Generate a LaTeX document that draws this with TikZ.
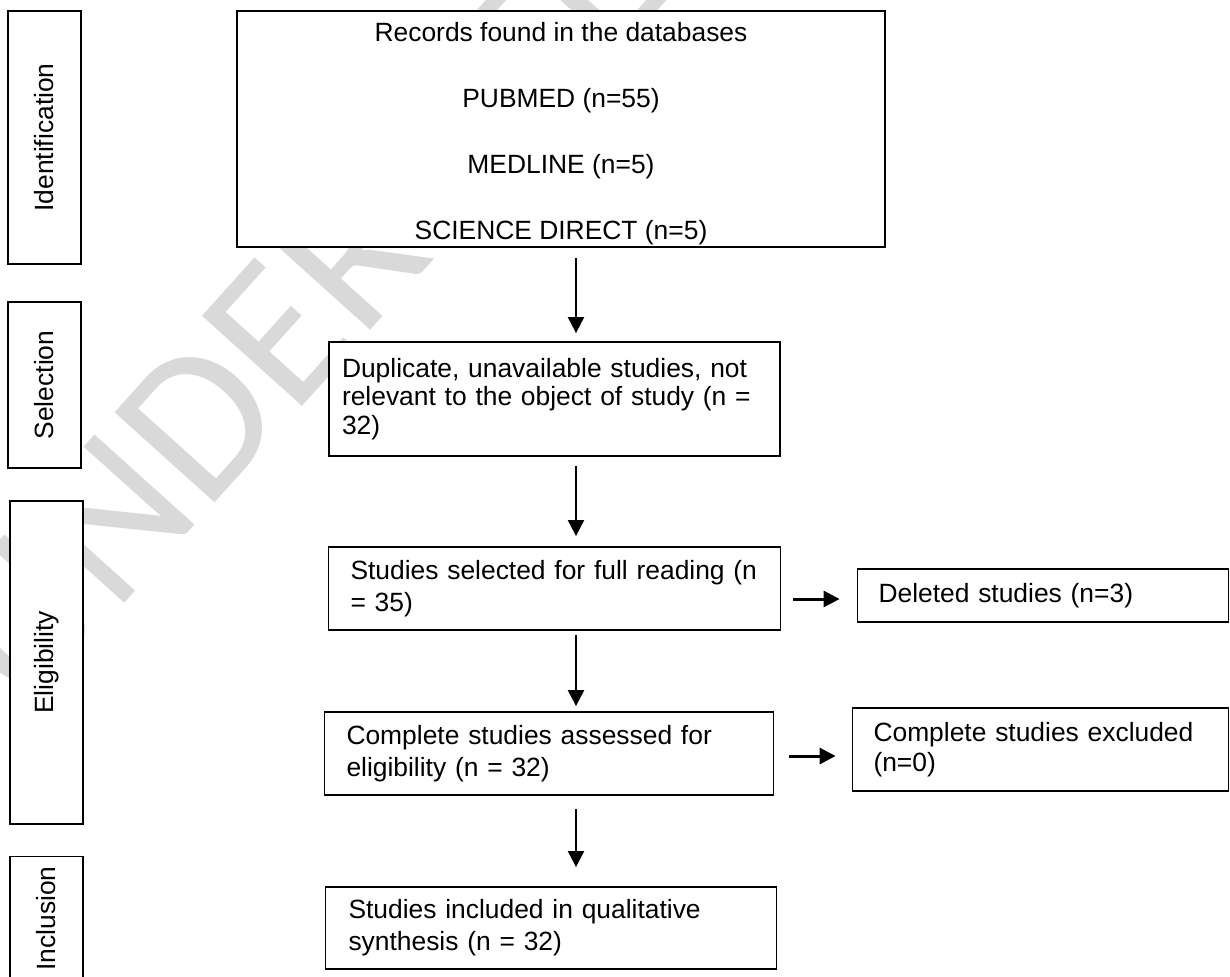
\documentclass[tikz,border=0pt]{standalone}
\usepackage{fontspec}
\setmainfont{Liberation Sans}
\newfontfamily\wmfont{Carlito}
\usetikzlibrary{
    arrows.meta,
    calc,
}
\definecolor{wmgray}{RGB}{217,217,217}

\begin{document}
\begin{tikzpicture}[
        font=\fontsize{13.2pt}{16pt}\selectfont,
        >={Triangle[length=8pt,width=8pt]},
        stage/.style={rectangle, draw=black, fill=white, line width=0.9pt, rotate=90, minimum height=36.5pt, inner sep=0pt},
        box/.style={rectangle, draw=black, fill=white, line width=0.9pt, align=left, inner ysep=0pt},
        flow/.style={->, line width=1pt},
        side/.style={->, line width=1.5pt}
        ]
        \useasboundingbox (0,0) rectangle (615pt,-488pt);
        % watermark behind everything
        \node[wmgray, font=\wmfont\fontsize{105pt}{105pt}\selectfont, anchor=base west, rotate=48] (WM) at (10pt,-360pt) {UNDER PEER REVIEW};
        % stages
        \node[stage, minimum width=126.5pt] (ID)   at (22.25pt,-68.75pt)  {Identification};
        \node[stage, minimum width=83pt]    (SELS) at (22.25pt,-192.5pt)  {Selection};
        \node[stage, minimum width=161.5pt] (ELIG) at (23.25pt,-331.25pt) {Eligibility};
        \node[stage, minimum width=62pt]    (INCL) at (23.25pt,-459.25pt) {Inclusion};
        % main flow
        \node[box, align=center, minimum width=324pt, minimum height=118pt, font=\fontsize{13.2pt}{33pt}\selectfont] (REC) at (280.5pt,-64.5pt)
            {\rule{0pt}{14.5pt}Records found in the databases\\PUBMED (n=55)\\MEDLINE (n=5)\\SCIENCE DIRECT (n=5)};
        \node[box, text width=212.5pt, inner xsep=6.5pt, minimum height=57pt, font=\fontsize{13.2pt}{14.3pt}\selectfont] (DUP) [below of=REC, node distance=135pt, xshift=-3.25pt]
            {Duplicate, unavailable studies, not\\relevant to the object of study (n =\\32)};
        \node[box, text width=204pt, inner xsep=11pt, minimum height=41.5pt] (SEL) [below of=DUP, node distance=94.75pt]
            {Studies selected for full reading (n\\= 35)};
        \node[box, text width=202.5pt, inner xsep=11pt, minimum height=41.5pt] (ASSESS) [below of=SEL, node distance=82.5pt, xshift=-2.75pt]
            {Complete studies assessed for\\eligibility (n = 32)};
        \node[box, text width=202.5pt, inner xsep=11.5pt, minimum height=41pt] (INC) [below of=ASSESS, node distance=87.25pt, xshift=1pt]
            {Studies included in qualitative\\synthesis (n = 32)};
        % exclusions
        \node[box, text width=164.5pt, inner xsep=10.5pt, minimum height=26.5pt] (DEL) [right of=SEL, node distance=244.25pt, yshift=-3.5pt]
            {Deleted studies (n=3)};
        \node[box, text width=167pt, inner xsep=10.5pt, minimum height=41.5pt, font=\fontsize{13.2pt}{15pt}\selectfont] (EXC) [right of=ASSESS, node distance=245.75pt, yshift=2pt]
            {Complete studies excluded\\(n=0)};
        % arrows
        \coordinate (AX) at (288pt,0);
        \draw[flow, shorten <=5pt, shorten >=4pt] (REC.south -| AX) -- (DUP.north -| AX);
        \draw[flow, shorten <=4.5pt, shorten >=5pt] (DUP.south -| AX) -- (SEL.north -| AX);
        \draw[flow, shorten <=2pt, shorten >=2.5pt] (SEL.south -| AX) -- (ASSESS.north -| AX);
        \draw[flow, shorten <=6.5pt, shorten >=9.5pt] (ASSESS.south -| AX) -- (INC.north -| AX);
        \coordinate (H1) at ([yshift=-5.25pt]SEL.east);
        \coordinate (H2) at ([yshift=-1.25pt]ASSESS.east);
        \draw[side, shorten <=6pt, shorten >=8.5pt] (H1) -- (H1 -| DEL.west);
        \draw[side, shorten <=7.5pt, shorten >=8pt] (H2) -- (H2 -| EXC.west);
\end{tikzpicture}
\end{document}
